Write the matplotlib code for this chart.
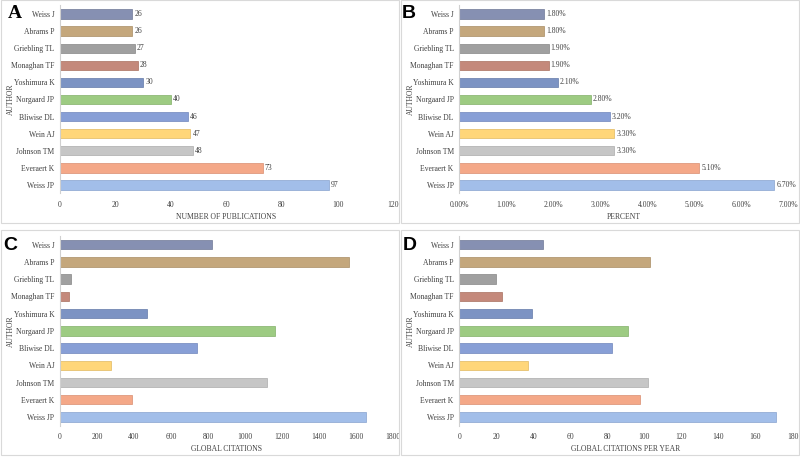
import matplotlib
matplotlib.use("Agg")
import matplotlib.pyplot as plt
from matplotlib.patches import Rectangle

# authors listed top to bottom as in the figure
authors = ["Weiss J", "Abrams P", "Griebling TL", "Monaghan TF", "Yoshimura K",
           "Norgaard JP", "Bliwise DL", "Wein AJ", "Johnson TM", "Everaert K", "Weiss JP"]
publications = [26, 26, 27, 28, 30, 40, 46, 47, 48, 73, 97]
percent = [1.8, 1.8, 1.9, 1.9, 2.1, 2.8, 3.2, 3.3, 3.3, 5.1, 6.7]
citations = [820, 1560, 57, 50, 470, 1160, 740, 278, 1117, 390, 1652]
citations_per_year = [45.1, 103.1, 19.8, 23.2, 39.5, 91.4, 82.5, 37.2, 102.2, 97.7, 171.2]

colors = ["#8690b2", "#c4a77c", "#a0a0a0", "#c4897b", "#7c93c3", "#9dcb82",
          "#889fd6", "#ffd679", "#c6c6c6", "#f4a888", "#a2bee9"]
edges = ["#6f7896", "#a88c63", "#868686", "#a87060", "#637aa8", "#82b067",
         "#6f86bb", "#e0b860", "#aaaaaa", "#d88e70", "#87a3cf"]

plt.rcParams["font.family"] = ["Liberation Serif", "DejaVu Serif"]
text_col = "#404040"

W, H = 800, 457
fig = plt.figure(figsize=(8, 4.57), dpi=100)


def px_axes(x0, x1, y_top, y_bot):
    return fig.add_axes([x0 / W, 1 - y_bot / H, (x1 - x0) / W, (y_bot - y_top) / H])


def panel(x0, x1, y_top, y_bot, label_x, values, xmax, xstep, xlabel, fmt_tick, fmt_val):
    ax = px_axes(x0, x1, y_top, y_bot)
    ypos = list(range(len(authors)))
    ax.barh(ypos, values, height=0.55, color=colors, edgecolor=edges, linewidth=0.5)
    ax.set_ylim(len(authors) - 0.5, -0.5)
    ax.set_xlim(0, xmax)
    ticks = [i * xstep for i in range(int(round(xmax / xstep)) + 1)]
    ax.set_xticks(ticks)
    ax.set_xticklabels([fmt_tick(t) for t in ticks])
    ax.set_yticks(ypos)
    ax.set_yticklabels(authors)
    ax.tick_params(length=0, labelsize=5.5, colors=text_col)
    ax.tick_params(axis="x", pad=5.5)
    ax.tick_params(axis="y", pad=4)
    for s in ["top", "right", "bottom"]:
        ax.spines[s].set_visible(False)
    ax.spines["left"].set_color("#d0d0d0")
    ax.spines["left"].set_linewidth(0.8)
    ax.set_xlabel(xlabel, fontsize=5.5, color=text_col, labelpad=3)
    ax.set_ylabel("AUTHOR", fontsize=5.5, color=text_col)
    ax.yaxis.set_label_coords((label_x - x0) / (x1 - x0), 0.5)
    if fmt_val is not None:
        for y, v in zip(ypos, values):
            ax.text(v + xmax * 0.006, y, fmt_val(v), va="center", ha="left",
                    fontsize=5.5, color=text_col)
    return ax


panel(60, 393, 5.5, 193.5, 15, publications, 120, 20, "NUMBER OF PUBLICATIONS",
      lambda t: f"{t:g}", lambda v: f"{v:g}")
panel(459.3, 788.5, 5.5, 193.5, 415, percent, 7, 1, "PERCENT",
      lambda t: f"{t:.2f}%", lambda v: f"{v:.2f}%")
panel(60, 393, 236, 425.6, 15, citations, 1800, 200, "GLOBAL CITATIONS",
      lambda t: f"{t:g}", None)
panel(459.3, 792.5, 236, 425.6, 415, citations_per_year, 180, 20, "GLOBAL CITATIONS PER YEAR",
      lambda t: f"{t:g}", None)

# panel borders
for (x0, y0, x1, y1) in [(0.5, 0.5, 399, 223), (400.5, 0.5, 799, 223),
                         (0.5, 230, 399, 455), (400.5, 230, 799, 455)]:
    fig.patches.append(Rectangle((x0 / W, 1 - y1 / H), (x1 - x0) / W, (y1 - y0) / H,
                                 transform=fig.transFigure, fill=False,
                                 edgecolor="#d9d9d9", linewidth=0.8))

# panel letters
fig.text(15 / W, 1 - 14 / H, "A", fontsize=14, fontweight="bold", ha="center", va="center",
         family=["Liberation Serif"], color="black")
for lab, x, y in [("B", 409, 14), ("C", 10, 245), ("D", 410, 245)]:
    fig.text(x / W, 1 - y / H, lab, fontsize=14, fontweight="bold", ha="center", va="center",
             family=["Liberation Sans"], color="black")

fig.savefig("out.png", dpi=100)
